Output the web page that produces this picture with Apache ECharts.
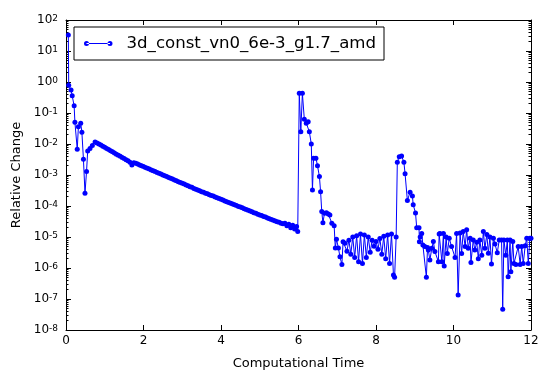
<!DOCTYPE html>
<html>
<head>
<meta charset="utf-8">
<script src="https://cdn.jsdelivr.net/npm/echarts@6/dist/echarts.min.js"></script>
<style>html,body{margin:0;padding:0;background:#fff}#c{width:549px;height:380px}</style>
</head>
<body>
<div id="c"></div>
<script>
const seriesName = '3d_const_vn0_6e-3_g1.7_amd';
const xTicks = [0, 2, 4, 6, 8, 10, 12];
const yDecades = [-8, -7, -6, -5, -4, -3, -2, -1, 0, 1, 2];

// initial transient
const timesStart = [0.06, 0.07, 0.13, 0.16, 0.21, 0.23, 0.29, 0.32, 0.38, 0.41, 0.45, 0.49, 0.53, 0.56, 0.62, 0.68, 0.75];
const valuesStart = [33, 0.79, 0.55, 0.36, 0.17, 0.05, 6.8e-3, 0.036, 0.047, 0.024, 3.2e-3, 2.6e-4, 1.3e-3, 5.9e-3, 7.2e-3, 8.9e-3, 1.17e-2];

// slow decay
const timesDecay = [0.80,0.85,0.90,0.95,1.00,1.05,1.10,1.15,1.20,1.25,1.30,1.35,1.40,1.45,1.50,1.55,1.60,1.65,1.70,1.75,1.80,1.85,1.90,1.95,
  2.00,2.05,2.10,2.15,2.20,2.25,2.30,2.35,2.40,2.45,2.50,2.55,2.60,2.65,2.70,2.75,2.80,2.85,2.90,2.95,
  3.00,3.05,3.10,3.15,3.20,3.25,3.30,3.35,3.40,3.45,3.50,3.55,3.60,3.65,3.70,3.75,3.80,3.85,3.90,3.95,
  4.00,4.05,4.10,4.15,4.20,4.25,4.30,4.35,4.40,4.45,4.50,4.55,4.60,4.65,4.70,4.75,4.80,4.85,4.90,4.95,
  5.00,5.05,5.10,5.15,5.20,5.25,5.30,5.35,5.40,5.45,5.50,5.55,5.60,5.65,5.70,5.75,5.80,5.85,5.90,5.95,5.98];
const valuesDecay = [1.08e-2,9.95e-3,9.2e-3,8.4e-3,7.8e-3,7.1e-3,6.6e-3,6.1e-3,5.6e-3,5.1e-3,4.7e-3,4.3e-3,4.0e-3,3.7e-3,3.4e-3,3.1e-3,2.9e-3,2.6e-3,2.1e-3,2.5e-3,2.4e-3,2.25e-3,2.12e-3,1.99e-3,
  1.87e-3,1.76e-3,1.65e-3,1.55e-3,1.46e-3,1.37e-3,1.29e-3,1.21e-3,1.14e-3,1.07e-3,1.0e-3,9.4e-4,8.9e-4,8.3e-4,7.8e-4,7.4e-4,6.9e-4,6.5e-4,6.1e-4,5.7e-4,
  5.4e-4,5.1e-4,4.8e-4,4.5e-4,4.2e-4,4.0e-4,3.7e-4,3.5e-4,3.3e-4,3.1e-4,2.9e-4,2.8e-4,2.6e-4,2.5e-4,2.3e-4,2.2e-4,2.1e-4,1.96e-4,1.85e-4,1.74e-4,
  1.64e-4,1.55e-4,1.46e-4,1.38e-4,1.3e-4,1.23e-4,1.16e-4,1.09e-4,1.03e-4,9.7e-5,9.2e-5,8.7e-5,8.2e-5,7.7e-5,7.3e-5,6.9e-5,6.5e-5,6.1e-5,5.8e-5,5.4e-5,
  5.1e-5,4.9e-5,4.6e-5,4.4e-5,4.1e-5,3.9e-5,3.7e-5,3.5e-5,3.3e-5,3.1e-5,3.0e-5,2.8e-5,2.7e-5,2.8e-5,2.3e-5,2.6e-5,2.0e-5,2.4e-5,1.8e-5,2.2e-5,1.5e-5];

// first restart spike
const timesSpike1 = [6.02,6.06,6.10,6.15,6.20,6.25,6.28,6.33,6.36,6.39,6.45,6.49,6.54,6.57,6.60,6.63,6.67,6.72,6.77,6.81,6.86,6.92,6.95,6.98,7.03,7.07,7.12,7.15];
const valuesSpike1 = [0.43,0.025,0.43,0.063,0.047,0.052,0.025,0.010,3.3e-4,3.5e-3,3.5e-3,2.0e-3,8.9e-4,2.9e-4,6.6e-5,2.9e-5,5.8e-5,6.1e-5,5.5e-5,5.1e-5,2.8e-5,2.3e-5,4.4e-6,8.5e-6,4.4e-6,2.3e-6,1.3e-6,7.0e-6];

// oscillation
const timesOsc = [7.20,7.25,7.30,7.35,7.40,7.45,7.50,7.55,7.60,7.65,7.70,7.75,7.80,7.85,7.90,7.95,8.00,8.05,8.10,8.15,8.20,8.25,8.30,8.35,8.40,8.45,8.48];
const valuesOsc = [6.3e-6,3.5e-6,7.9e-6,2.8e-6,1.0e-5,2.2e-6,1.1e-5,1.6e-6,1.26e-5,1.4e-6,1.17e-5,2.2e-6,1.0e-5,3.2e-6,7.9e-6,5.0e-6,7.1e-6,4.0e-6,8.9e-6,2.8e-6,1.05e-5,2.0e-6,1.17e-5,1.4e-6,1.26e-5,5.9e-7,5.0e-7];

// second spike
const timesSpike2 = [8.52,8.55,8.60,8.66,8.72,8.75,8.81,8.88,8.94,8.96,9.02,9.05,9.11,9.12,9.14,9.18,9.21,9.26,9.30,9.33];
const valuesSpike2 = [1.0e-5,2.6e-3,3.9e-3,4.1e-3,2.6e-3,1.1e-3,1.5e-4,2.8e-4,2.1e-4,1.1e-4,6.0e-5,2.0e-5,2.0e-5,7.0e-6,1.0e-5,1.3e-5,5.5e-6,4.9e-6,5.0e-7,4.6e-6];

// noisy tail
const timesTail = [9.35,9.39,9.44,9.48,9.52,9.61,9.63,9.65,9.70,9.74,9.76,9.81,9.84,9.89,9.95,10.04,10.08,10.12,10.17,10.21,10.25,10.30,10.34,10.38,10.43,10.45,
  10.51,10.55,10.60,10.64,10.68,10.73,10.77,10.81,10.86,10.90,10.94,10.98,11.03,11.07,11.13,11.18,11.24,11.27,11.30,11.35,11.39,11.41,11.46,11.48,
  11.53,11.56,11.61,11.67,11.72,11.76,11.80,11.85,11.89,11.93,11.97,12.0];
const valuesTail = [3.8e-6,1.8e-6,4.3e-6,7.1e-6,3.4e-6,1.6e-6,1.26e-5,1.3e-5,1.6e-6,1.3e-5,1.15e-6,1.0e-5,2.95e-6,9.1e-6,4.9e-6,2.2e-6,1.3e-5,1.35e-7,1.35e-5,2.95e-6,1.5e-5,4.9e-6,1.7e-5,4.3e-6,9.1e-6,1.5e-6,
  8.0e-6,3.8e-6,6.8e-6,2.0e-6,8.0e-6,2.6e-6,1.5e-5,4.3e-6,1.2e-5,3.0e-6,1.0e-5,1.35e-6,9.1e-6,6.0e-6,3.1e-6,8.0e-6,8.0e-6,4.7e-8,8.0e-6,2.6e-6,8.0e-6,5.2e-7,8.0e-6,7.6e-7,
  7.1e-6,1.4e-6,1.3e-6,4.9e-6,1.3e-6,4.9e-6,1.4e-6,5.2e-6,9.1e-6,1.4e-6,9.1e-6,9.1e-6];

const times = [].concat(timesStart, timesDecay, timesSpike1, timesOsc, timesSpike2, timesTail);
const values = [].concat(valuesStart, valuesDecay, valuesSpike1, valuesOsc, valuesSpike2, valuesTail);
const seriesData = times.map((t, i) => [t, values[i]]);

const minorTicks = [];
yDecades.slice(0, -1).forEach(e => { for (let k = 2; k <= 9; k++) minorTicks.push(Number((k * Math.pow(10, e)).toPrecision(3))); });
const majorTicks = yDecades.map(e => Math.pow(10, e));

const FONT = 'DejaVu Sans';
const axisLineStyle = { show: true, lineStyle: { color: '#000', width: 1 } };
const yMin = Math.pow(10, yDecades[0]), yMax = Math.pow(10, yDecades[yDecades.length - 1]);

const chart = echarts.init(document.getElementById('c'), null, { renderer: 'canvas' });
chart.setOption({
  animation: false,
  backgroundColor: '#fff',
  grid: { left: 66, right: 18, top: 20, bottom: 50, containLabel: false },
  legend: {
    left: 74, top: 27,
    padding: [8, 8, 8, 10],
    borderColor: '#000', borderWidth: 1, borderRadius: 0, backgroundColor: '#fff',
    itemWidth: 28.5, itemHeight: 5,
    icon: 'path://M0,2.5 a2.5,2.5 0 1,0 5,0 a2.5,2.5 0 1,0 -5,0 Z M23.5,2.5 a2.5,2.5 0 1,0 5,0 a2.5,2.5 0 1,0 -5,0 Z M2.5,2 L26,2 L26,3 L2.5,3 Z',
    textStyle: { fontFamily: FONT, fontSize: 16.6, color: '#000', padding: [0, 0, 0, 9] },
    data: [seriesName]
  },
  xAxis: [
    {
      type: 'value', position: 'bottom', min: xTicks[0], max: xTicks[xTicks.length - 1], interval: 2,
      axisLine: axisLineStyle,
      axisTick: { show: true, inside: true, length: 5, lineStyle: { color: '#000' } },
      axisLabel: { fontFamily: FONT, fontSize: 12, color: '#000', margin: 5 },
      splitLine: { show: false },
      name: 'Computational Time', nameLocation: 'middle', nameGap: 27,
      nameTextStyle: { fontFamily: FONT, fontSize: 13, color: '#000' }
    },
    {
      type: 'value', position: 'top', min: xTicks[0], max: xTicks[xTicks.length - 1], interval: 2,
      axisLine: axisLineStyle,
      axisTick: { show: true, inside: true, length: 5, lineStyle: { color: '#000' } },
      axisLabel: { show: false }, splitLine: { show: false }
    }
  ],
  yAxis: [
    {
      type: 'log', logBase: 10, position: 'left', min: yMin, max: yMax,
      axisLine: axisLineStyle,
      axisTick: { show: true, inside: true, length: 5, customValues: majorTicks, lineStyle: { color: '#000' } },
      axisLabel: {
        customValues: majorTicks,
        margin: 8,
        formatter: v => '{b|10}{s|' + Math.round(Math.log10(v)) + '}',
        rich: {
          b: { fontFamily: FONT, fontSize: 12, color: '#000', verticalAlign: 'bottom' },
          s: { fontFamily: FONT, fontSize: 9, color: '#000', verticalAlign: 'top', lineHeight: 9, padding: [0, 0, 7, 0] }
        }
      },
      splitLine: { show: false },
      name: 'Relative Change', nameLocation: 'middle', nameGap: 42, nameRotate: 90,
      nameTextStyle: { fontFamily: FONT, fontSize: 13, color: '#000' }
    },
    {
      type: 'log', logBase: 10, position: 'left', min: yMin, max: yMax,
      axisLine: { show: false },
      axisTick: { show: true, inside: true, length: 2.5, customValues: minorTicks, lineStyle: { color: '#000' } },
      axisLabel: { show: false }, splitLine: { show: false }
    },
    {
      type: 'log', logBase: 10, position: 'right', min: yMin, max: yMax,
      axisLine: axisLineStyle,
      axisTick: { show: true, inside: true, length: 5, customValues: majorTicks, lineStyle: { color: '#000' } },
      axisLabel: { show: false }, splitLine: { show: false }
    },
    {
      type: 'log', logBase: 10, position: 'right', min: yMin, max: yMax,
      axisLine: { show: false },
      axisTick: { show: true, inside: true, length: 2.5, customValues: minorTicks, lineStyle: { color: '#000' } },
      axisLabel: { show: false }, splitLine: { show: false }
    }
  ],
  series: [{
    name: seriesName,
    type: 'line',
    xAxisIndex: 0, yAxisIndex: 0,
    data: seriesData,
    symbol: 'circle', symbolSize: 5, showAllSymbol: true,
    color: '#0000ff',
    itemStyle: { color: '#0000ff', borderWidth: 0 },
    lineStyle: { color: '#0000ff', width: 1 },
    emphasis: { disabled: true },
    clip: true
  }]
});
</script>
</body>
</html>
